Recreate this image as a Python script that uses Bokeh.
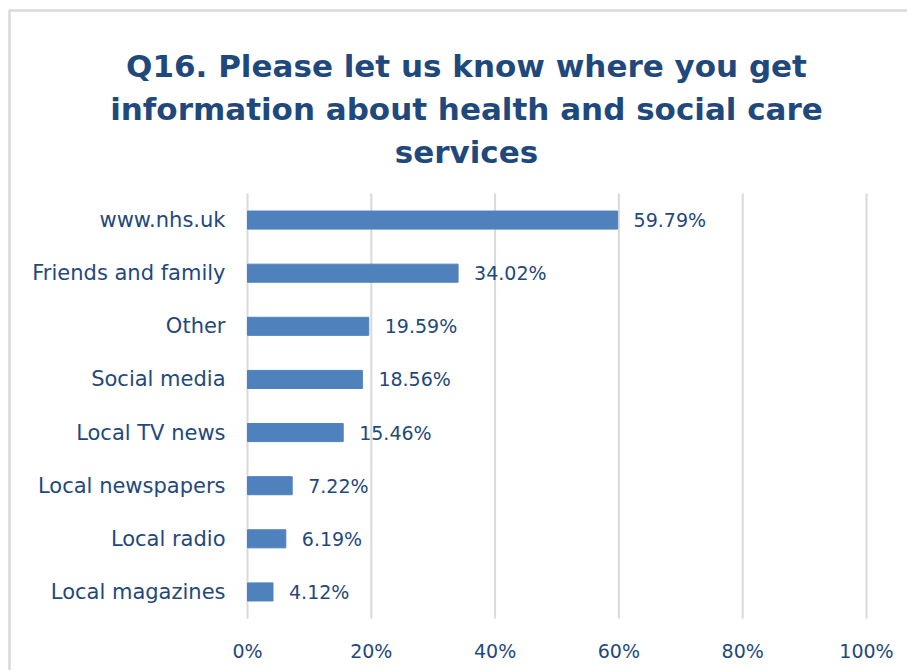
from bokeh.plotting import figure
from bokeh.models import ColumnDataSource, FixedTicker, Range1d
from bokeh.core.properties import value
from bokeh.embed import file_html
from bokeh.resources import INLINE

# Survey responses (percent of respondents)
sources = ["www.nhs.uk", "Friends and family", "Other", "Social media",
           "Local TV news", "Local newspapers", "Local radio", "Local magazines"]
shares = [59.79, 34.02, 19.59, 18.56, 15.46, 7.22, 6.19, 4.12]
x_ticks = [0, 20, 40, 60, 80, 100]
title_lines = ["Q16. Please let us know where you get",
               "information about health and social care",
               "services"]

FONT = "DejaVu Sans"
TEXT = "#1F497D"
BAR = "#4F81BD"
GRID = "#D9D9D9"

W, H = 907, 670
PLOT_L, PLOT_R = 247, 866    # pixel span of 0%..100%
PLOT_T, PLOT_B = 193, 618    # pixel span of the bar area

px_x = (PLOT_R - PLOT_L) / 100.0
n = len(sources)
px_y = (PLOT_B - PLOT_T) / n

x0 = -PLOT_L / px_x
x1 = (W - PLOT_L) / px_x
y0 = -0.5 - (H - PLOT_B) / px_y
y1 = y0 + H / px_y


def cx(px):
    return x0 + px / px_x


def cy(py):
    return y0 + (H - py) / px_y


pos = list(range(n - 1, -1, -1))   # first category at the top
src = ColumnDataSource(dict(
    pos=pos,
    source=sources,
    share=shares,
    label=[f"{v:.2f}%" for v in shares],
))

p = figure(
    width=W, height=H,
    x_range=Range1d(x0, x1), y_range=Range1d(y0, y1),
    output_backend="svg", toolbar_location=None,
    y_axis_location=None,
    min_border=0,
)
p.outline_line_color = None
p.grid.grid_line_color = None

# Vertical gridlines across the bar area
p.segment(x0=x_ticks, x1=x_ticks, y0=-0.5, y1=n - 0.5,
          line_color=GRID, line_width=2)

p.hbar(y="pos", right="share", left=0, height=0.34, source=src,
       fill_color=BAR, line_color=BAR)

# Value labels
p.text(x="share", y="pos", text="label", source=src, x_offset=16,
       text_baseline="middle", text_font=value(FONT), text_font_size="19px",
       text_color=TEXT)

# Category labels
p.text(x=0, y="pos", text="source", source=src, x_offset=-22,
       text_align="right", text_baseline="middle", text_font=value(FONT),
       text_font_size="21px", text_color=TEXT)

# Percentage axis: labels only, pinned just under the bars
p.xaxis.fixed_location = -0.5
p.xaxis.ticker = FixedTicker(ticks=x_ticks)
p.xaxis.major_label_overrides = {t: f"{t}%" for t in x_ticks}
p.xaxis.axis_line_color = None
p.xaxis.major_tick_line_color = None
p.xaxis.minor_tick_line_color = None
p.xaxis.major_label_text_font = FONT
p.xaxis.major_label_text_font_size = "19px"
p.xaxis.major_label_text_color = TEXT
p.xaxis.major_label_standoff = 15

# Title, three centred lines
title_x = cx(466)
for i, line in enumerate(title_lines):
    p.text(x=[title_x], y=[cy(65 + 43 * i)], text=[line],
           text_align="center", text_baseline="alphabetic",
           text_font=value(FONT), text_font_size="31px",
           text_font_style="bold", text_color=TEXT)

# Chart border (left and top edges)
p.line(x=[cx(9), cx(9), cx(W + 10)], y=[cy(H + 10), cy(10), cy(10)],
       line_color=GRID, line_width=2.5)

open("out.html", "w").write(file_html(p, INLINE))
